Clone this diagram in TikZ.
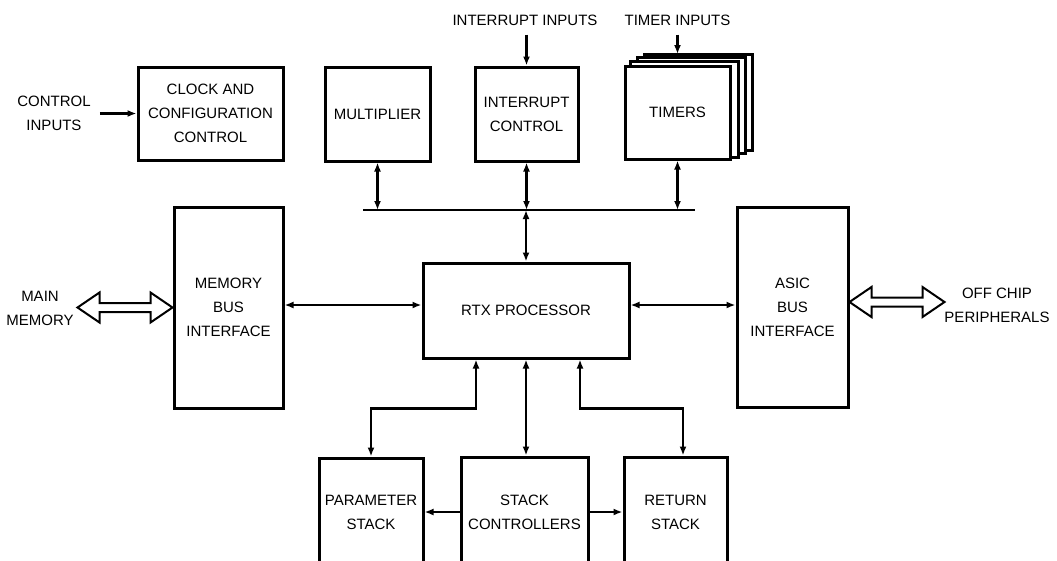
\documentclass[tikz,border=0pt]{standalone}
\usepackage{fontspec}
\setmainfont{Liberation Sans}
\usetikzlibrary{arrows.meta,backgrounds}

\begin{document}
\begin{tikzpicture}[x=1pt,y=-1pt,font=\fontsize{15}{24}\selectfont,
blk/.style={draw=black,line width=3pt,fill=white,align=center,inner sep=0pt},
lbl/.style={align=center,inner sep=2pt},
arr/.style={-{Latex[length=9pt,width=7pt]},line width=2.2pt},
darr/.style={{Latex[length=9pt,width=7pt]}-{Latex[length=9pt,width=7pt]},line width=2.2pt},
bus/.style={line width=2.4pt},
fat/.style={draw=black,line width=2pt,fill=white,line join=miter}]
\useasboundingbox (0,0) rectangle (1057,560);
% top row
\node[blk,minimum width=145pt,minimum height=93pt] (clock) at (210.5,113.5) {CLOCK AND\\CONFIGURATION\\CONTROL};
\node[blk,minimum width=105pt,minimum height=94pt] (mult) at (377.5,114) {MULTIPLIER};
\node[blk,minimum width=103pt,minimum height=94pt] (intr) at (526.5,114) {INTERRUPT\\CONTROL};
\node[blk,minimum width=105pt,minimum height=93pt] (tim) at (677.5,112.5) {TIMERS};
\begin{scope}[on background layer]
\fill[white] (0,0) rectangle (1057,560);
\foreach \k in {3,2,1}
  \draw[blk] ([shift={(7*\k,-3.5*\k)}]tim.south west) rectangle ([shift={(7*\k,-3.5*\k)}]tim.north east);
\end{scope}
% middle row
\node[blk,minimum width=109pt,minimum height=201pt] (membus) at (228.5,307.5) {MEMORY\\BUS\\INTERFACE};
\node[blk,minimum width=206pt,minimum height=95pt] (rtx) at (526,310.5) {RTX PROCESSOR};
\node[blk,minimum width=111pt,minimum height=200pt] (asic) at (792.5,307) {ASIC\\BUS\\INTERFACE};
% stacks
\node[blk,minimum width=104pt,minimum height=108pt] (param) at (371,512) {PARAMETER\\STACK};
\node[blk,minimum width=127pt,minimum height=110pt] (sc) at (524.5,512) {STACK\\CONTROLLERS};
\node[blk,minimum width=103pt,minimum height=110pt] (ret) at (675.5,512) {RETURN\\STACK};
% outside labels
\node[lbl] (ctlin) at (54,113) {CONTROL\\INPUTS};
\node[lbl] (intin) at (525,20) {INTERRUPT INPUTS};
\node[lbl] (timin) at (677.5,20) {TIMER INPUTS};
\node[lbl] (mainmem) at (40,308) {MAIN\\MEMORY};
\node[lbl] (offchip) at (997,305) {OFF CHIP\\PERIPHERALS};
% inputs
\draw[arr,shorten <=7pt] (ctlin.east |- clock.west) -- (clock.west);
\draw[arr] (intr.north) ++(0,-31) -- (intr.north);
\draw[arr] (tim.north) ++(0,-30) -- ++(0,19.5);
% internal bus
\coordinate (busl) at (363,210);
\coordinate (busr) at (695,210);
\draw[bus] (busl) -- (busr);
\draw[darr] (mult.south) -- (mult.south |- busl);
\draw[darr] (intr.south) -- (intr.south |- busl);
\draw[darr] (tim.south) -- (tim.south |- busl);
\draw[darr] (rtx.north |- busl) -- (rtx.north);
% bus interfaces
\coordinate (midl) at ([yshift=5.5pt]rtx.west);
\coordinate (midr) at ([yshift=5.5pt]rtx.east);
\draw[darr] (midl -| membus.east) -- (midl);
\draw[darr] (midr) -- (midr -| asic.west);
\draw[fat] (membus.west) -- ++(-22,-15) -- ++(0,10.5) -- ++(-51,0) -- ++(0,-10.5) -- ++(-22,15) -- ++(22,15) -- ++(0,-10.5) -- ++(51,0) -- ++(0,10.5) -- cycle;
\draw[fat] ([yshift=5pt]asic.east) -- ++(22,-15) -- ++(0,10.5) -- ++(51,0) -- ++(0,-10.5) -- ++(22,15) -- ++(-22,15) -- ++(0,-10.5) -- ++(-51,0) -- ++(0,10.5) -- cycle;
% stacks
\draw[darr] (param.north) -- ++(0,-48) -| ([xshift=-50pt]rtx.south);
\draw[darr] ([xshift=7.5pt]ret.north) -- ++(0,-47) -| ([xshift=54pt]rtx.south);
\draw[darr] (rtx.south) -- (rtx.south |- sc.north);
\draw[arr] (sc.west) -- (sc.west -| param.east);
\draw[arr] (sc.east) -- (sc.east -| ret.west);
\end{tikzpicture}
\end{document}
